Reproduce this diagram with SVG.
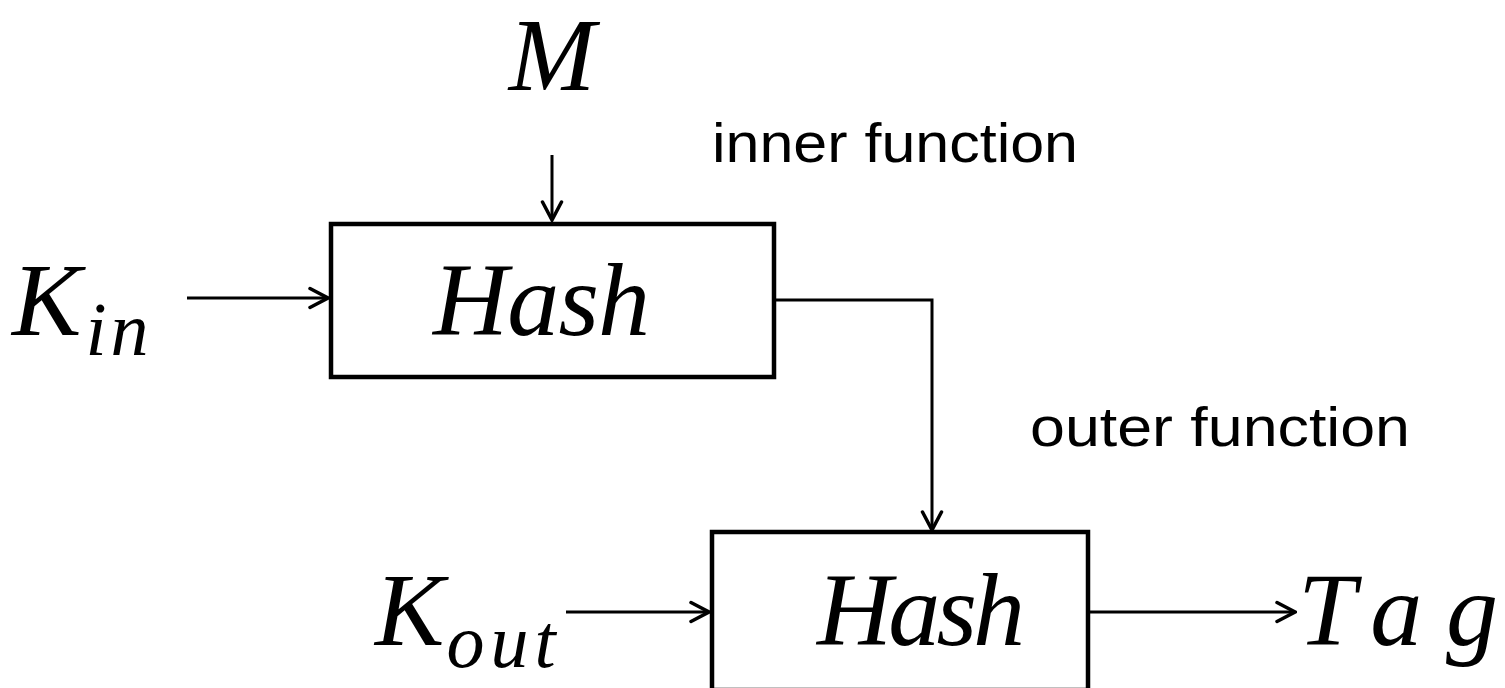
<svg xmlns="http://www.w3.org/2000/svg" width="1505" height="688" viewBox="0 0 1505 688">
<style>
.box{fill:#fff;stroke:#000;stroke-width:4.5}
.ln{fill:none;stroke:#000;stroke-width:3}
.m{font-family:"Liberation Serif",serif;font-style:italic;fill:#000}
.lbl{font-family:"Liberation Sans",sans-serif;font-size:56px;fill:#000;font-variant-ligatures:none}
</style>
<defs>
<marker id="ah2" viewBox="0 0 24 24" refX="22" refY="12" markerWidth="24" markerHeight="24" markerUnits="userSpaceOnUse" orient="auto">
<path d="M4,2.5 L22,12 L4,21.5" fill="none" stroke="#000" stroke-width="3.5" stroke-linecap="round"/>
</marker>
</defs>
<g id="connectors">
<line class="ln" x1="552" y1="155" x2="552" y2="220" marker-end="url(#ah2)"/>
<line class="ln" x1="187" y1="298" x2="328" y2="298" marker-end="url(#ah2)"/>
<polyline class="ln" points="775,300 932,300 932,530" marker-end="url(#ah2)"/>
<line class="ln" x1="566" y1="612" x2="709" y2="612" marker-end="url(#ah2)"/>
<line class="ln" x1="1090" y1="612" x2="1295" y2="612" marker-end="url(#ah2)"/>
</g>
<g id="hash-inner">
<rect class="box" x="331" y="224" width="443" height="153"/>
<text class="m" x="433" y="335" font-size="104" textLength="217" lengthAdjust="spacing">Hash</text>
</g>
<g id="hash-outer">
<rect class="box" x="712" y="532" width="376" height="158"/>
<text class="m" x="817" y="645" font-size="104" textLength="208" lengthAdjust="spacing">Hash</text>
</g>
<g id="M">
<text class="m" x="552" y="90" font-size="104" text-anchor="middle">M</text>
</g>
<g id="Kin">
<text class="m" x="12" y="335" font-size="104">K<tspan font-size="76" dx="4" dy="20" letter-spacing="4">in</tspan></text>
</g>
<g id="Kout">
<text class="m" x="375" y="645" font-size="104">K<tspan font-size="76" dx="2" dy="22" letter-spacing="6">out</tspan></text>
</g>
<g id="Tag">
<text class="m" x="1298" y="645" font-size="104" textLength="200" lengthAdjust="spacing">Tag</text>
</g>
<g id="labels">
<text class="lbl" x="712" y="162" textLength="366" lengthAdjust="spacingAndGlyphs">inner function</text>
<text class="lbl" x="1030" y="446" textLength="380" lengthAdjust="spacingAndGlyphs">outer function</text>
</g>
</svg>
